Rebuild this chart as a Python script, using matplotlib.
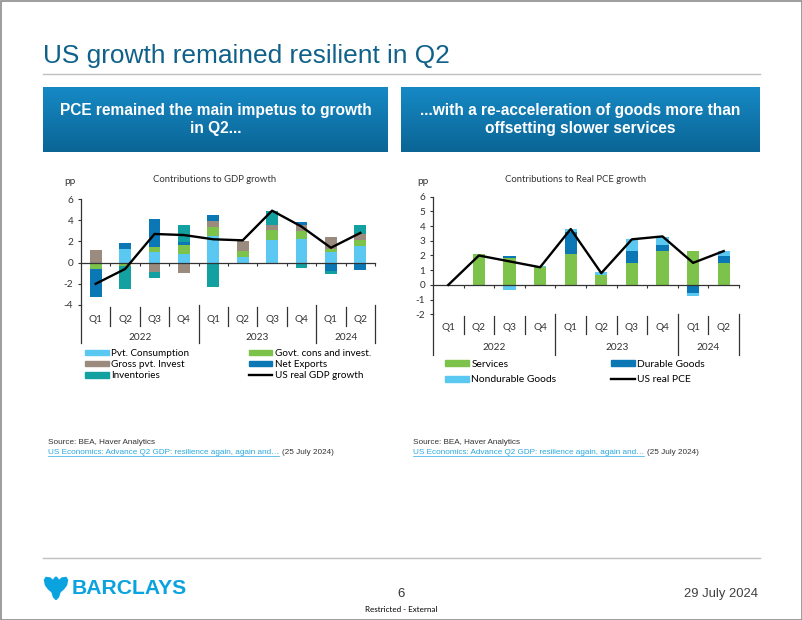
import numpy as np
import matplotlib.pyplot as plt
from matplotlib import font_manager
from matplotlib.colors import LinearSegmentedColormap
from matplotlib.patches import Rectangle, Polygon, Patch
from matplotlib.lines import Line2D

W, H = 802, 620

quarters = ["Q1", "Q2", "Q3", "Q4", "Q1", "Q2", "Q3", "Q4", "Q1", "Q2"]
years = ["2022", "2023", "2024"]
year_spans = [4, 4, 2]

# contributions to GDP growth, pp
pvt_consumption = [0.0, 1.26, 1.0, 0.8, 2.52, 0.57, 2.15, 2.2, 0.98, 1.58]
govt = [-0.57, -0.35, 0.5, 0.88, 0.82, 0.54, 0.95, 0.82, 0.28, 0.54]
gross_pvt_invest = [1.2, 0.0, -0.85, -1.0, 0.54, 0.95, 0.47, 0.5, 1.2, 0.6]
net_exports = [-2.71, 0.57, 2.62, 0.25, 0.62, 0.0, 0.0, 0.28, -0.8, -0.7]
inventories = [0.0, -2.1, -0.63, 1.64, -2.27, 0.0, 1.32, -0.47, -0.28, 0.85]
gdp_growth = [-2.0, -0.6, 2.7, 2.6, 2.2, 2.1, 4.9, 3.4, 1.4, 2.8]

# contributions to real PCE growth, pp
services = [0.0, 2.1, 1.83, 1.24, 2.08, 0.66, 1.5, 2.33, 2.28, 1.5]
durable_goods = [0.0, -0.1, 0.15, -0.08, 1.55, 0.0, 0.78, 0.36, -0.57, 0.5]
nondurable_goods = [0.0, 0.0, -0.38, 0.07, 0.15, 0.2, 0.84, 0.6, -0.18, 0.32]
real_pce = [0.0, 2.0, 1.6, 1.2, 3.8, 0.8, 3.1, 3.3, 1.5, 2.3]

C_LBLUE = "#5BC8F2"
C_GREEN = "#7DC24B"
C_BROWN = "#9B8A7E"
C_DBLUE = "#0B78B5"
C_TEAL = "#12A0A0"

names = {f.name for f in font_manager.fontManager.ttflist}
NARROW = "Liberation Sans Narrow" if "Liberation Sans Narrow" in names else "Liberation Sans"
SANS = "Liberation Sans"
CHART = "Lato"
AXC = "#333333"

plt.rcParams["axes.unicode_minus"] = False

fig = plt.figure(figsize=(W / 100, H / 100), dpi=100)
bg = fig.add_axes([0, 0, 1, 1], zorder=0)
bg.set_xlim(0, W)
bg.set_ylim(H, 0)
bg.axis("off")


def frac(x0, y0, x1, y1):
    return [x0 / W, 1 - y1 / H, (x1 - x0) / W, (y1 - y0) / H]


# slide frame, title, rules
bg.add_patch(Rectangle((0.5, 0.5), W - 1, H - 1, fill=False, ec="#8C8C8C", lw=1.2))
bg.text(43, 63, "US growth remained resilient in Q2", family=SANS, fontsize=18.9,
        color="#10618A", va="baseline", ha="left")
bg.plot([43, 760], [73.5, 73.5], color="#C0C0C0", lw=1)
bg.plot([43, 760], [558, 558], color="#C0C0C0", lw=1)

# blue header boxes
cmap = LinearSegmentedColormap.from_list("hdr", ["#1689C5", "#0B6595"])
grad = np.linspace(0, 1, 100).reshape(-1, 1)
headers = [
    (43, 388, "PCE remained the main impetus to growth\nin Q2..."),
    (401, 760, "...with a re-acceleration of goods more than\noffsetting slower services"),
]
for x0, x1, txt in headers:
    bg.imshow(grad, cmap=cmap, extent=(x0, x1, 152, 87), aspect="auto", zorder=1)
    bg.text((x0 + x1) / 2, 119.5, txt, family=SANS, weight="bold", fontsize=11.2,
            color="white", ha="center", va="center", linespacing=1.25, zorder=2)
bg.set_xlim(0, W)
bg.set_ylim(H, 0)


def stacked_chart(rect, series, colors, line, ylim, yticks, cat_px):
    ax = fig.add_axes(frac(*rect), zorder=2)
    ax.patch.set_alpha(0)
    x = np.arange(len(quarters))
    pos = np.zeros(len(x))
    neg = np.zeros(len(x))
    for vals, col in zip(series, colors):
        v = np.array(vals)
        ax.bar(x, v, 0.4, bottom=np.where(v >= 0, pos, neg), color=col, zorder=2)
        pos += np.clip(v, 0, None)
        neg += np.clip(v, None, 0)
    ax.plot(x, line, color="black", lw=1.7, zorder=4)
    ax.set_xlim(-0.5, len(x) - 0.5)
    ax.set_ylim(*ylim)
    ax.set_yticks(yticks)
    ax.spines[["top", "right"]].set_visible(False)
    ax.spines["bottom"].set_position(("data", 0))
    for s in ("left", "bottom"):
        ax.spines[s].set_color(AXC)
        ax.spines[s].set_linewidth(0.9)
    ax.set_xticks(np.arange(0.5, len(x), 1))
    ax.set_xticklabels([])
    ax.tick_params(axis="x", direction="out", length=2.5, width=0.8, color=AXC)
    ax.tick_params(axis="y", direction="out", length=2.5, width=0.8, color=AXC,
                   labelsize=7.2, labelcolor=AXC, pad=3)
    for lab in ax.get_yticklabels():
        lab.set_family(CHART)

    # two-level category axis below the plot
    bottom_px, q_px, yr_px, short_px, long_px = cat_px
    ax_h = rect[3] - rect[1]
    tr = ax.get_xaxis_transform()
    to_ax = lambda p: -(p - bottom_px) / ax_h
    for i, q in enumerate(quarters):
        ax.text(i, to_ax(q_px), q, transform=tr, ha="center", va="center",
                family=CHART, fontsize=7.2, color=AXC)
    edges = np.concatenate([[0], np.cumsum(year_spans)]) - 0.5
    for start, span, yr in zip(edges[:-1], year_spans, years):
        ax.text(start + span / 2, to_ax(yr_px), yr, transform=tr, ha="center",
                va="center", family=CHART, fontsize=7.2, color=AXC)
    for b in np.arange(-0.5, len(x), 1):
        top, bot = (bottom_px, long_px) if b in edges else (bottom_px + 2, short_px)
        ax.plot([b, b], [to_ax(top), to_ax(bot)], transform=tr, color=AXC,
                lw=0.9, clip_on=False)
    return ax


# left chart
axl = stacked_chart((81, 199, 375, 305),
                    [pvt_consumption, govt, gross_pvt_invest, net_exports, inventories],
                    [C_LBLUE, C_GREEN, C_BROWN, C_DBLUE, C_TEAL],
                    gdp_growth, (-4, 6), np.arange(-4, 7, 2),
                    (305, 319, 338, 326, 343))
bg.text(64, 182, "pp", family=CHART, fontsize=7.2, color=AXC, va="center")
bg.text(215, 180, "Contributions to GDP growth", family=CHART, fontsize=6.8,
        color=AXC, ha="center", va="center")

hl = [Patch(color=C_LBLUE), Patch(color=C_BROWN), Patch(color=C_TEAL),
      Patch(color=C_GREEN), Patch(color=C_DBLUE), Line2D([], [], color="black", lw=1.7)]
ll = ["Pvt. Consumption", "Gross pvt. Invest", "Inventories",
      "Govt. cons and invest.", "Net Exports", "US real GDP growth"]
axl.legend(hl, ll, ncol=2, mode="expand", loc="upper left",
           bbox_to_anchor=frac(85, 349, 371, 350), bbox_transform=fig.transFigure,
           frameon=False, borderpad=0, borderaxespad=0, labelspacing=0.22,
           handlelength=2.4, handleheight=0.5, handletextpad=0.25,
           prop={"family": CHART, "size": 7.1})

# right chart
axr = stacked_chart((433, 196.7, 739, 314.3),
                    [services, durable_goods, nondurable_goods],
                    [C_GREEN, C_DBLUE, C_LBLUE],
                    real_pce, (-2, 6), np.arange(-2, 7, 1),
                    (314.3, 328, 348, 334, 355))
bg.text(417, 182, "pp", family=CHART, fontsize=7.2, color=AXC, va="center")
bg.text(576, 180, "Contributions to Real PCE growth", family=CHART, fontsize=6.8,
        color=AXC, ha="center", va="center")

hr = [Patch(color=C_GREEN), Patch(color=C_LBLUE), Patch(color=C_DBLUE),
      Line2D([], [], color="black", lw=1.7)]
lr = ["Services", "Nondurable Goods", "Durable Goods", "US real PCE"]
axr.legend(hr, lr, ncol=2, mode="expand", loc="upper left",
           bbox_to_anchor=frac(445, 360, 705, 361), bbox_transform=fig.transFigure,
           frameon=False, borderpad=0, borderaxespad=0, labelspacing=0.62,
           handlelength=2.3, handleheight=0.5, handletextpad=0.25,
           prop={"family": CHART, "size": 7.4})

# sources with underlined link
fig.canvas.draw()
renderer = fig.canvas.get_renderer()
inv = bg.transData.inverted()
for x0 in (48, 413):
    bg.text(x0, 443, "Source: BEA, Haver Analytics", family=SANS, fontsize=5.9,
            color="#333333", va="center")
    link = bg.text(x0, 452, "US Economics: Advance Q2 GDP: resilience again, again and\u2026",
                   family=SANS, fontsize=5.9, color="#29A9E0", va="center")
    bb = link.get_window_extent(renderer)
    (lx0, ly0), (lx1, ly1) = inv.transform([[bb.x0, bb.y0], [bb.x1, bb.y1]])
    bg.plot([lx0, lx1], [ly0 + 0.3, ly0 + 0.3], color="#29A9E0", lw=0.5)
    bg.text(lx1 + 3, 452, "(25 July 2024)", family=SANS, fontsize=5.9,
            color="#333333", va="center")

# footer
eagle = [(56, 577), (58, 579), (58.5, 581), (62, 578), (66, 577.5), (67.5, 580),
         (66.5, 585), (63.5, 589), (60, 592), (58.5, 597), (56, 599.5), (53.5, 597),
         (52, 592), (48.5, 589), (45.5, 585), (44.5, 580), (46, 577.5), (50, 578),
         (53.5, 581), (54, 579)]
bg.add_patch(Polygon(eagle, closed=True, color="#0AA3E0"))
bg.text(72, 588, "BARCLAYS", family=NARROW, weight="bold", fontsize=15.2,
        color="#0AA3E0", va="center", ha="left")
bg.text(401, 594, "6", family=SANS, fontsize=9.5, color="#333333", ha="center", va="center")
bg.text(401, 609, "Restricted - External", family=CHART, fontsize=5.8, color="black",
        ha="center", va="center")
bg.text(758, 594, "29 July 2024", family=SANS, fontsize=9.4, color="#404040",
        ha="right", va="center")

fig.savefig("out.png", dpi=100)
